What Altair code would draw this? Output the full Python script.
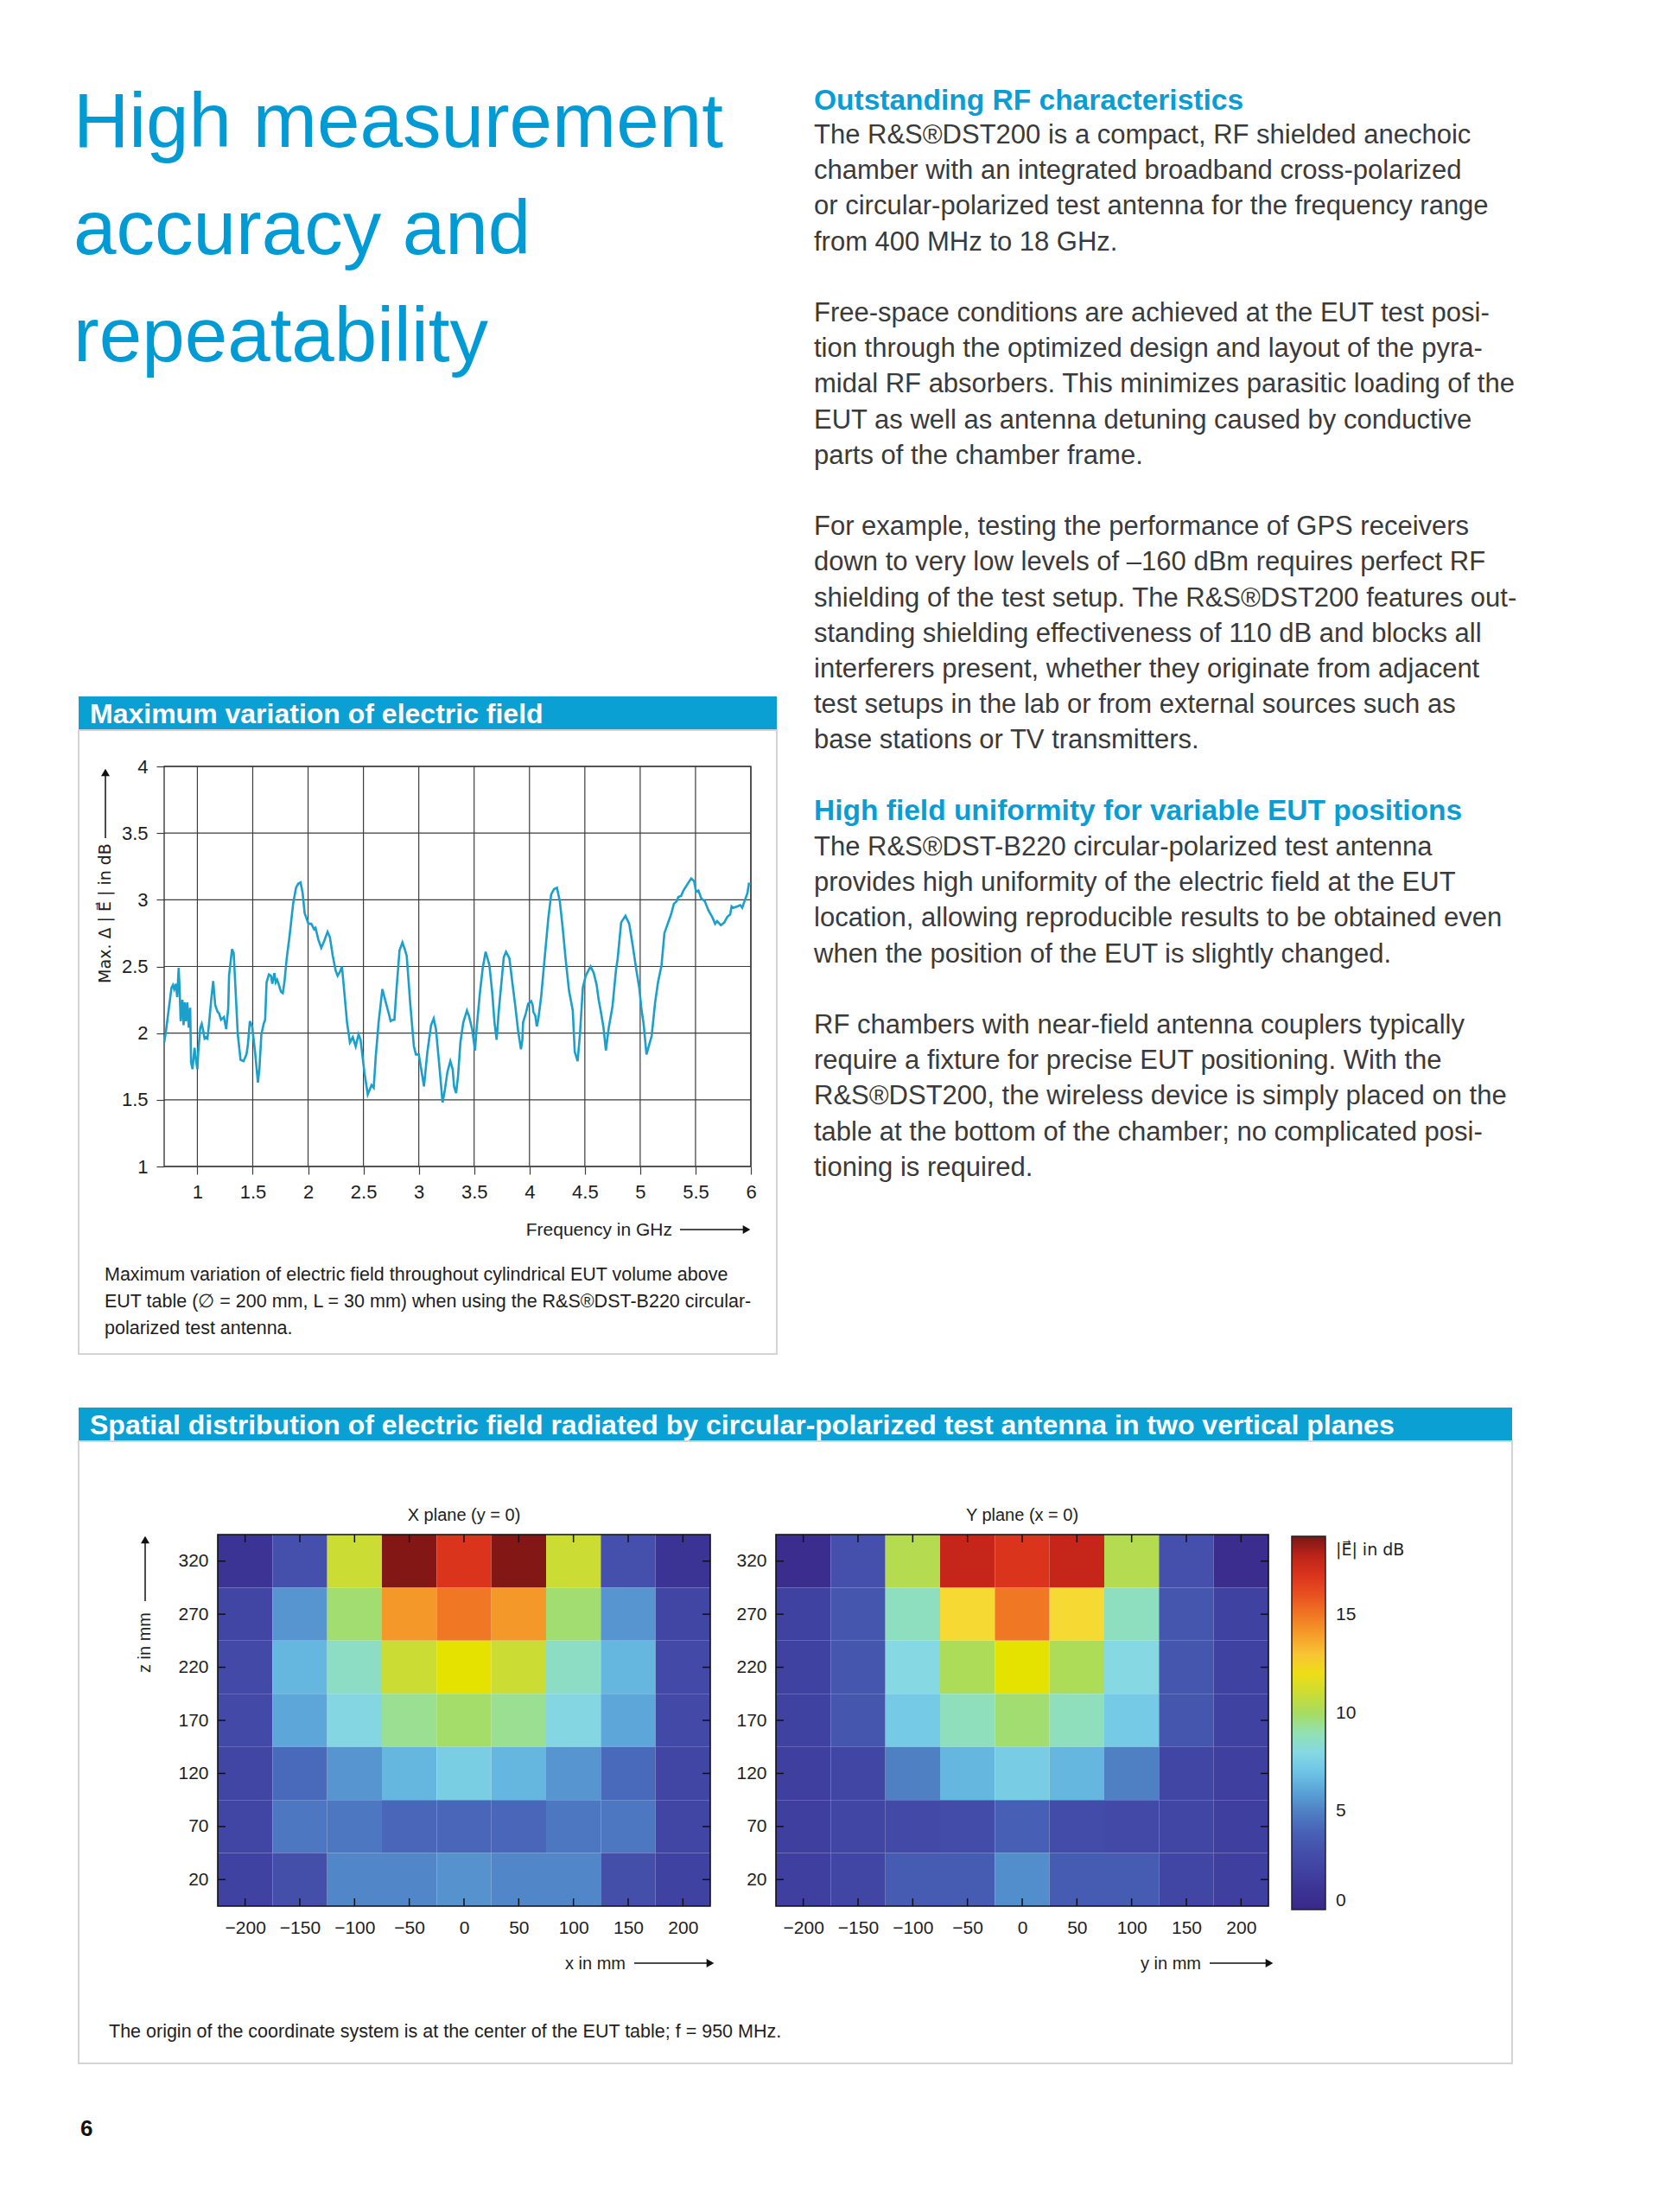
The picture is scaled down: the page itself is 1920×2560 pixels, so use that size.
import altair as alt
import pandas as pd

NARROW = "Liberation Sans, Arial, Helvetica, sans-serif"
SANS = "Liberation Sans, Arial, Helvetica, sans-serif"
SYM = "DejaVu Sans, Liberation Sans, sans-serif"
BLUE_T = "#009bd5"
BLUE = "#0a9dd3"
BAR = "#0aa0d4"
TXT = "#3a3a3a"
DARK = "#1e1e1e"
GRID = "#3c3c3c"
LINE = "#1aa0cb"

# ---------------- data: line chart ----------------
freq = [0.700, 0.714, 0.766, 0.779, 0.790, 0.805, 0.818, 0.831, 0.839, 0.849, 0.865, 0.875, 0.885,
        0.896, 0.909, 0.922, 0.935, 0.943, 0.956, 0.974, 0.987, 1.000, 1.008, 1.026, 1.039, 1.052,
        1.065, 1.078, 1.091, 1.104, 1.125, 1.143, 1.161, 1.182, 1.195, 1.214, 1.240, 1.260, 1.279,
        1.286, 1.313, 1.328, 1.344, 1.365, 1.390, 1.417, 1.443, 1.456, 1.474, 1.495, 1.521, 1.547,
        1.560, 1.578, 1.599, 1.612, 1.625, 1.646, 1.664, 1.677, 1.695, 1.708, 1.721, 1.737, 1.755,
        1.771, 1.786, 1.807, 1.833, 1.865, 1.891, 1.911, 1.932, 1.951, 1.969, 2.003, 2.029, 2.054,
        2.067, 2.093, 2.119, 2.145, 2.176, 2.197, 2.223, 2.249, 2.267, 2.288, 2.306, 2.326, 2.352,
        2.378, 2.404, 2.430, 2.456, 2.474, 2.508, 2.539, 2.573, 2.593, 2.611, 2.637, 2.671, 2.702,
        2.728, 2.746, 2.767, 2.780, 2.798, 2.826, 2.852, 2.873, 2.891, 2.922, 2.956, 2.974, 3.000,
        3.026, 3.047, 3.078, 3.111, 3.135, 3.155, 3.181, 3.215, 3.233, 3.259, 3.285, 3.306, 3.319,
        3.337, 3.355, 3.376, 3.402, 3.435, 3.453, 3.482, 3.508, 3.521, 3.552, 3.578, 3.604, 3.638,
        3.664, 3.684, 3.703, 3.723, 3.749, 3.768, 3.788, 3.819, 3.845, 3.871, 3.897, 3.923, 3.936,
        3.942, 3.968, 3.988, 4.016, 4.029, 4.035, 4.053, 4.066, 4.079, 4.105, 4.139, 4.170, 4.196,
        4.222, 4.248, 4.274, 4.300, 4.326, 4.357, 4.391, 4.409, 4.435, 4.456, 4.482, 4.508, 4.552,
        4.581, 4.607, 4.625, 4.643, 4.669, 4.690, 4.716, 4.750, 4.781, 4.797, 4.828, 4.867, 4.901,
        4.932, 4.966, 4.992, 5.010, 5.031, 5.057, 5.104, 5.135, 5.161, 5.193, 5.219, 5.253, 5.279,
        5.305, 5.331, 5.344, 5.370, 5.391, 5.422, 5.461, 5.487, 5.505, 5.526, 5.552, 5.583, 5.617,
        5.651, 5.677, 5.695, 5.729, 5.760, 5.786, 5.813, 5.826, 5.844, 5.878, 5.904, 5.922, 5.943,
        5.969, 5.982, 6.000]
delta_db = [1.93, 2.00, 2.34, 2.36, 2.33, 2.37, 2.27, 2.49, 2.34, 2.09, 2.25, 2.06, 2.23,
            2.09, 2.23, 2.04, 2.19, 1.78, 1.73, 1.89, 1.80, 1.73, 1.86, 2.04, 2.07, 2.02,
            1.96, 1.97, 1.96, 2.06, 2.25, 2.39, 2.21, 2.16, 2.15, 2.10, 2.12, 2.03, 2.19,
            2.43, 2.63, 2.60, 2.34, 1.99, 1.80, 1.79, 1.84, 1.91, 2.09, 2.05, 1.86, 1.63,
            1.73, 1.99, 2.07, 2.10, 2.38, 2.44, 2.43, 2.37, 2.45, 2.38, 2.40, 2.36, 2.31,
            2.30, 2.38, 2.56, 2.73, 2.97, 3.09, 3.12, 3.13, 3.05, 2.90, 2.82, 2.82, 2.78,
            2.79, 2.70, 2.64, 2.69, 2.76, 2.72, 2.58, 2.47, 2.43, 2.46, 2.50, 2.32, 2.08,
            1.93, 1.97, 1.90, 1.99, 1.95, 1.71, 1.54, 1.61, 1.59, 1.82, 2.08, 2.33, 2.23,
            2.15, 2.09, 2.10, 2.10, 2.32, 2.62, 2.68, 2.63, 2.58, 2.23, 1.90, 1.84, 1.84,
            1.71, 1.60, 1.86, 2.06, 2.11, 2.03, 1.80, 1.48, 1.56, 1.71, 1.79, 1.73, 1.60,
            1.55, 1.68, 1.93, 2.08, 2.17, 2.13, 2.03, 1.87, 2.02, 2.30, 2.49, 2.61, 2.51,
            2.30, 2.08, 1.95, 2.17, 2.40, 2.57, 2.61, 2.56, 2.38, 2.21, 2.02, 1.88, 1.95,
            2.08, 2.15, 2.22, 2.24, 2.21, 2.16, 2.13, 2.05, 2.10, 2.27, 2.58, 2.86, 3.04,
            3.08, 3.09, 2.99, 2.79, 2.56, 2.32, 2.17, 1.86, 1.79, 1.99, 2.34, 2.43, 2.50,
            2.45, 2.36, 2.25, 2.17, 2.04, 1.87, 2.04, 2.20, 2.47, 2.56, 2.83, 2.88, 2.82,
            2.66, 2.47, 2.34, 2.19, 2.07, 1.84, 1.98, 2.23, 2.38, 2.51, 2.75, 2.83, 2.89,
            2.97, 2.99, 3.02, 3.03, 3.07, 3.11, 3.16, 3.14, 3.06, 3.07, 3.01, 2.99, 2.92,
            2.87, 2.82, 2.84, 2.81, 2.83, 2.87, 2.89, 2.95, 2.94, 2.95, 2.96, 2.94, 2.99,
            3.05, 3.12, 3.12]
x_ticks_ghz = [1, 1.5, 2, 2.5, 3, 3.5, 4, 4.5, 5, 5.5, 6]
y_ticks_db = [1, 1.5, 2, 2.5, 3, 3.5, 4]

# ---------------- data: heatmaps ----------------
pos_mm = [-200, -150, -100, -50, 0, 50, 100, 150, 200]
z_mm = [320, 270, 220, 170, 120, 70, 20]
x_plane = [
    [1.0, 3.0, 11.0, 18.9, 17.0, 18.9, 11.0, 3.0, 1.0],
    [2.3, 5.6, 9.8, 14.1, 15.0, 14.1, 9.8, 5.6, 2.3],
    [2.5, 6.6, 8.6, 11.0, 11.7, 11.0, 8.6, 6.6, 2.5],
    [2.5, 6.1, 7.9, 9.4, 9.9, 9.4, 7.9, 6.1, 2.5],
    [2.2, 4.2, 5.6, 6.6, 7.5, 6.6, 5.6, 4.2, 2.2],
    [2.3, 4.7, 4.7, 4.1, 4.1, 4.1, 4.7, 4.7, 2.3],
    [2.0, 2.9, 5.2, 5.2, 5.5, 5.2, 5.2, 2.9, 2.0],
]
y_plane = [
    [0.4, 3.0, 10.4, 17.8, 17.0, 17.8, 10.4, 3.0, 0.4],
    [2.0, 3.3, 8.7, 12.4, 15.0, 12.4, 8.7, 3.3, 2.0],
    [2.0, 3.3, 8.0, 10.2, 11.7, 10.2, 8.0, 3.3, 2.0],
    [2.0, 3.3, 7.3, 8.8, 9.8, 8.8, 7.3, 3.3, 2.0],
    [1.8, 2.3, 5.0, 6.6, 7.4, 6.6, 5.0, 2.3, 1.8],
    [1.8, 2.2, 2.5, 2.8, 3.8, 2.8, 2.5, 2.2, 1.8],
    [1.8, 2.2, 3.6, 3.6, 5.4, 3.6, 3.6, 2.2, 1.8],
]
cbar_ticks = [0, 5, 10, 15]
color_stops = [0, 1, 2, 3, 4, 5, 6, 7, 8, 9, 10, 11, 11.7, 12.5, 13.5, 14.5, 15.5, 16.5, 17.5, 18.5, 19]
color_hex = ["#38288a", "#3c3494", "#4042a2", "#4450ab", "#4863b7", "#4f80c4", "#5aa3d8",
             "#6ec4e6", "#86d8e2", "#92e1b2", "#a6dc62", "#cbdc34", "#e6e200", "#f8d83a",
             "#f7b02e", "#f28a25", "#ed6420", "#e33e20", "#d22a1a", "#a61d17", "#7a1616"]

# ---------------- texts ----------------
title_lines = ["High measurement", "accuracy and", "repeatability"]
head1 = "Outstanding RF characteristics"
head2 = "High field uniformity for variable EUT positions"
para1 = [
    "The R&S®DST200 is a compact, RF shielded anechoic",
    "chamber with an integrated broadband cross-polarized",
    "or circular-polarized test antenna for the frequency range",
    "from 400 MHz to 18 GHz.",
]
para2 = [
    "Free-space conditions are achieved at the EUT test posi-",
    "tion through the optimized design and layout of the pyra-",
    "midal RF absorbers. This minimizes parasitic loading of the",
    "EUT as well as antenna detuning caused by conductive",
    "parts of the chamber frame.",
]
para3 = [
    "For example, testing the performance of GPS receivers",
    "down to very low levels of –160 dBm requires perfect RF",
    "shielding of the test setup. The R&S®DST200 features out-",
    "standing shielding effectiveness of 110 dB and blocks all",
    "interferers present, whether they originate from adjacent",
    "test setups in the lab or from external sources such as",
    "base stations or TV transmitters.",
]
para4 = [
    "The R&S®DST-B220 circular-polarized test antenna",
    "provides high uniformity of the electric field at the EUT",
    "location, allowing reproducible results to be obtained even",
    "when the position of the EUT is slightly changed.",
]
para5 = [
    "RF chambers with near-field antenna couplers typically",
    "require a fixture for precise EUT positioning. With the",
    "R&S®DST200, the wireless device is simply placed on the",
    "table at the bottom of the chamber; no complicated posi-",
    "tioning is required.",
]
bar1_text = "Maximum variation of electric field"
bar2_text = "Spatial distribution of electric field radiated by circular-polarized test antenna in two vertical planes"
cap1_lines = [
    "Maximum variation of electric field throughout cylindrical EUT volume above",
    "EUT table (∅ = 200 mm, L = 30 mm) when using the R&S®DST-B220 circular-",
    "polarized test antenna.",
]
cap2 = "The origin of the coordinate system is at the center of the EUT table; f = 950 MHz."

ONE = alt.Data(values=[{"k": 0}])


def txt(lines, x, y, size, font=SANS, color=TXT, weight="normal", align="left",
        baseline="alphabetic", angle=None, lh=None):
    kw = dict(text=lines, font=font, fontSize=size, color=color, fontWeight=weight,
              align=align, baseline=baseline)
    if angle is not None:
        kw["angle"] = angle
    if lh is not None:
        kw["lineHeight"] = lh
    return alt.Chart(ONE).mark_text(**kw).encode(x=alt.value(x), y=alt.value(y))


def box(x, x2, y, y2, **style):
    return alt.Chart(ONE).mark_rect(**style).encode(
        x=alt.value(x), x2=alt.value(x2), y=alt.value(y), y2=alt.value(y2))


def hrule(x, x2, y, color="#111", w=1.5):
    return alt.Chart(ONE).mark_rule(color=color, strokeWidth=w).encode(
        x=alt.value(x), x2=alt.value(x2), y=alt.value(y))


def vrule(x, y, y2, color="#111", w=1.5):
    return alt.Chart(ONE).mark_rule(color=color, strokeWidth=w).encode(
        x=alt.value(x), y=alt.value(y), y2=alt.value(y2))


def head(x, y, shape, size=100):
    return alt.Chart(ONE).mark_point(shape=shape, filled=True, size=size, color="#111",
                                     opacity=1).encode(x=alt.value(x), y=alt.value(y))


LH = 41.2
decor = [
    txt(title_lines, 77, 162, 89, SANS, BLUE_T, lh=124),
    txt(head1, 934, 119, 33.5, SANS, BLUE, "bold"),
    txt(para1, 934, 158, 31, SANS, TXT, lh=LH),
    txt(para2, 934, 158 + 5 * LH, 31, SANS, TXT, lh=LH),
    txt(para3, 934, 158 + 11 * LH, 31, SANS, TXT, lh=LH),
    txt(head2, 934, 158 + 19 * LH, 33.5, SANS, BLUE, "bold"),
    txt(para4, 934, 158 + 20 * LH, 31, SANS, TXT, lh=LH),
    txt(para5, 934, 158 + 25 * LH, 31, SANS, TXT, lh=LH),
    box(83, 891, 798, 837, fill=BAR),
    txt(bar1_text, 96, 829, 32, SANS, "white", "bold"),
    box(83, 891, 837, 1559, fillOpacity=0, stroke="#d4d4d4", strokeWidth=2),
    txt("Max. Δ | E\u20d7 | in dB", 114, 1049, 19, SYM, DARK, align="center",
        baseline="middle", angle=270),
    vrule(114, 962, 890),
    head(114, 886, "triangle-up"),
    txt("Frequency in GHz", 770, 1422, 21, NARROW, DARK, align="right"),
    hrule(779, 852, 1415),
    head(856, 1415, "triangle-right"),
    txt(cap1_lines, 113, 1474, 21.5, NARROW, DARK, lh=31),
    box(83, 1742, 1621, 1660, fill=BAR),
    txt(bar2_text, 96, 1652, 32, SANS, "white", "bold"),
    box(83, 1742, 1660, 2380, fillOpacity=0, stroke="#d4d4d4", strokeWidth=2),
    txt("X plane (y = 0)", 529, 1752, 20, NARROW, DARK, align="center"),
    txt("Y plane (x = 0)", 1175, 1752, 20, NARROW, DARK, align="center"),
    txt("z in mm", 160, 1893, 20, NARROW, DARK, align="center", baseline="middle", angle=270),
    vrule(160, 1845, 1778),
    head(160, 1774, "triangle-up"),
    txt("x in mm", 716, 2271, 20, NARROW, DARK, align="right"),
    hrule(726, 810, 2264),
    head(814, 2264, "triangle-right"),
    txt("y in mm", 1382, 2271, 20, NARROW, DARK, align="right"),
    hrule(1392, 1457, 2264),
    head(1461, 2264, "triangle-right"),
    txt("|E\u20d7| in dB", 1538, 1792, 19, SYM, DARK),
    txt(cap2, 118, 2350, 21.5, NARROW, DARK),
    txt("6", 85, 2464, 26, SANS, "#111", "bold"),
]

# ---------------- line chart ----------------
xs = alt.Scale(domain=[0.7, 6], range=[182, 861], nice=False, zero=False)
ys = alt.Scale(domain=[1, 4], range=[1342, 879], nice=False, zero=False)
lab = dict(labelFont=NARROW, labelFontSize=22, labelColor=DARK, labelOverlap=False)
xa = alt.Axis(orient="bottom", offset=-1202, values=x_ticks_ghz, format="~g", grid=False,
              domain=False, tickSize=9, tickColor=GRID, tickWidth=1.2, labelPadding=10,
              labelFlush=False, title=None, **lab)
ya = alt.Axis(orient="left", offset=-182, values=y_ticks_db, format="~g", grid=False,
              domain=False, tickSize=9, tickColor=GRID, tickWidth=1.2, labelPadding=10,
              title=None, **lab)

line_df = pd.DataFrame({"f": freq, "v": delta_db})
vgrid = alt.Chart(pd.DataFrame({"f": x_ticks_ghz})).mark_rule(color=GRID, strokeWidth=1.2).encode(
    x=alt.X("f:Q", scale=xs, axis=xa),
    y=alt.Y(datum=1, scale=ys, axis=ya), y2=alt.Y2(datum=4))
hgrid = alt.Chart(pd.DataFrame({"v": y_ticks_db})).mark_rule(color=GRID, strokeWidth=1.2).encode(
    y=alt.Y("v:Q", scale=ys, axis=ya),
    x=alt.X(datum=0.7, scale=xs, axis=xa), x2=alt.X2(datum=6))
frame = alt.Chart(ONE).mark_rect(fillOpacity=0, stroke=GRID, strokeWidth=1.4).encode(
    x=alt.X(datum=0.7, scale=xs, axis=xa), x2=alt.X2(datum=6),
    y=alt.Y(datum=1, scale=ys, axis=ya), y2=alt.Y2(datum=4))
curve = alt.Chart(line_df).mark_line(color=LINE, strokeWidth=2.6).encode(
    x=alt.X("f:Q", scale=xs, axis=xa), y=alt.Y("v:Q", scale=ys, axis=ya))
line_group = alt.layer(vgrid, hgrid, frame, curve)

# ---------------- heatmaps ----------------
cscale = alt.Scale(domain=color_stops, range=color_hex, type="linear", interpolate="rgb")
legend = alt.Legend(orient="none", legendX=1487, legendY=1770, direction="vertical",
                    gradientLength=432, gradientThickness=39, title=None, values=cbar_ticks,
                    format="d", labelFont=NARROW, labelFontSize=21, labelColor=DARK,
                    labelOffset=12, labelBaseline="middle", gradientStrokeColor="#222",
                    gradientStrokeWidth=1.5, padding=0, labelOverlap=False)
hlab = dict(labelFont=NARROW, labelFontSize=21, labelColor=DARK, labelOverlap=False)


def heat_df(rows):
    rec = []
    for zi, z in enumerate(z_mm):
        for xi, x in enumerate(pos_mm):
            rec.append({"x": x, "z": z, "val": rows[zi][xi]})
    return pd.DataFrame(rec)


def heat_group(rows, left, right, top=1768, bottom=2198):
    hx = alt.Scale(domain=[-225, 225], range=[left, right], nice=False, zero=False)
    hy = alt.Scale(domain=[-5, 345], range=[bottom, top], nice=False, zero=False)
    hxa = alt.Axis(orient="bottom", offset=bottom - 2544, values=pos_mm, format="d", grid=False,
                   domain=False, ticks=False, labelPadding=14, labelFlush=False, title=None, **hlab)
    hya = alt.Axis(orient="left", offset=-left, values=z_mm, format="d", grid=False,
                   domain=False, ticks=False, labelPadding=11, title=None, **hlab)
    cells = alt.Chart(heat_df(rows)).transform_calculate(
        xa="datum.x - 25", xb="datum.x + 25", za="datum.z - 25", zb="datum.z + 25"
    ).mark_rect(strokeWidth=0).encode(
        x=alt.X("xa:Q", scale=hx, axis=hxa), x2="xb:Q",
        y=alt.Y("za:Q", scale=hy, axis=hya), y2="zb:Q",
        color=alt.Color("val:Q", scale=cscale, legend=legend))
    fr = alt.Chart(ONE).mark_rect(fillOpacity=0, stroke="#111", strokeWidth=1.6).encode(
        x=alt.X(datum=-225, scale=hx, axis=hxa), x2=alt.X2(datum=225),
        y=alt.Y(datum=-5, scale=hy, axis=hya), y2=alt.Y2(datum=345))
    tdf = pd.DataFrame({"x": pos_mm})
    zdf = pd.DataFrame({"z": z_mm})
    tb = alt.Chart(tdf).mark_rule(color="#111", strokeWidth=1.5).encode(
        x=alt.X("x:Q", scale=hx, axis=hxa), y=alt.value(bottom), y2=alt.value(bottom - 9))
    tt = alt.Chart(tdf).mark_rule(color="#111", strokeWidth=1.5).encode(
        x=alt.X("x:Q", scale=hx, axis=hxa), y=alt.value(top), y2=alt.value(top + 9))
    tl = alt.Chart(zdf).mark_rule(color="#111", strokeWidth=1.5).encode(
        y=alt.Y("z:Q", scale=hy, axis=hya), x=alt.value(left), x2=alt.value(left + 9))
    tr = alt.Chart(zdf).mark_rule(color="#111", strokeWidth=1.5).encode(
        y=alt.Y("z:Q", scale=hy, axis=hya), x=alt.value(right), x2=alt.value(right - 9))
    return alt.layer(cells, fr, tb, tt, tl, tr)


heat_x = heat_group(x_plane, 244, 814)
heat_y = heat_group(y_plane, 890, 1460)

chart = alt.layer(*decor, line_group, heat_x, heat_y).resolve_scale(
    x="independent", y="independent"
).properties(
    width=1904, height=2544, padding=0, background="white",
    autosize=alt.AutoSizeParams(type="none")
).configure_view(stroke=None)

chart.save("out.html", embed_options={"renderer": "svg", "actions": False})
